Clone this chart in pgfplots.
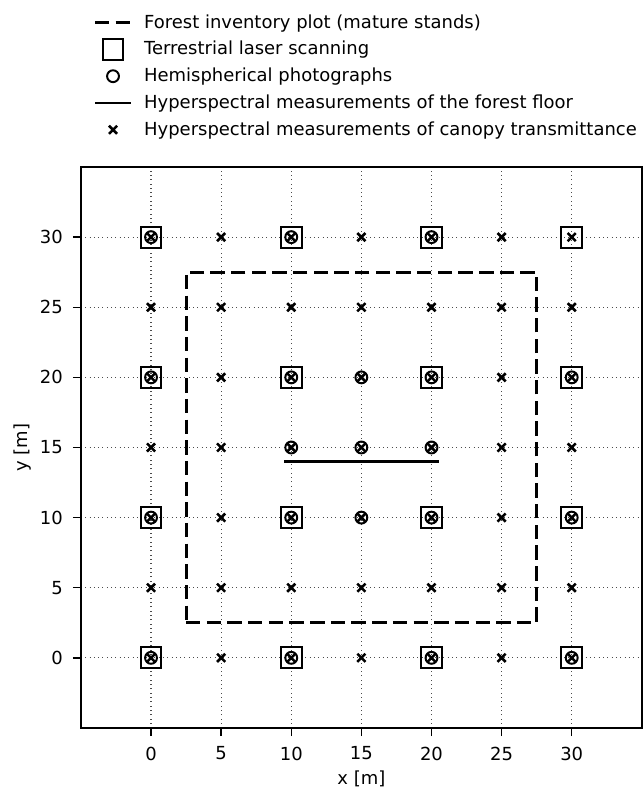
\documentclass[border=0pt]{standalone}
\usepackage{pgfplots}
\pgfplotsset{compat=1.18}
\usepackage{fontspec}
\setmainfont{DejaVu Sans}
\begin{document}
\begin{tikzpicture}
\begin{axis}[
  at={(0,0)}, anchor=south west,
  scale only axis, width=312pt, height=312pt,
  xmin=-5, xmax=35, ymin=-5, ymax=35,
  xtick={0,5,10,15,20,25,30}, ytick={0,5,10,15,20,25,30},
  tick pos=left, tick align=outside,
  major tick length=4.5pt,
  tick style={black, line width=0.8pt},
  axis line style={line width=0.9pt},
  grid=major,
  major grid style={dotted, black!70, line width=0.6pt},
  xlabel={x [m]}, ylabel={y [m]},
  /pgf/number format/assume math mode=true,
  ticklabel style={font=\fontsize{10}{12}\selectfont},
  xticklabel style={yshift=-2.5pt},
  yticklabel style={xshift=-2pt},
  every axis x label/.style={at={(rel axis cs:0.5,0)}, yshift=-28.4pt, anchor=center, font=\fontsize{10}{12}\selectfont},
  every axis y label/.style={at={(rel axis cs:0,0.5)}, xshift=-32.3pt, anchor=center, rotate=90, font=\fontsize{10}{12}\selectfont},
  legend image code/.code={\draw[mark repeat=2,mark phase=2] plot coordinates {(0pt,0pt) (10pt,0pt) (20pt,0pt)};},
  legend style={at={(0.022,1.279)}, anchor=north west, draw=none, fill=none,
    font=\fontsize{10}{12}\selectfont, row sep=1.8pt, column sep=4.5pt, inner sep=0pt},
  legend cell align=left,
  clip=false,
]
% forest inventory plot
\addplot[black, line width=1.6pt, dash pattern=on 8pt off 3.5pt] coordinates {
 (2.5,2.5) (27.5,2.5) (27.5,27.5) (2.5,27.5) (2.5,2.5)};
\addlegendentry{Forest inventory plot (mature stands)}
% TLS
\addplot[only marks, mark=square, mark size=5.8pt, mark options={draw=black, fill=none, line width=1.1pt}] coordinates {
 (0,0) (10,0) (20,0) (30,0)
 (0,10) (10,10) (20,10) (30,10)
 (0,20) (10,20) (20,20) (30,20)
 (0,30) (10,30) (20,30) (30,30)};
\addlegendentry{Terrestrial laser scanning}
% hemispherical
\addplot[only marks, mark=o, mark size=3.3pt, mark options={draw=black, fill=none, line width=1.1pt}] coordinates {
 (0,0) (10,0) (20,0) (30,0)
 (0,10) (10,10) (20,10) (30,10)
 (0,20) (10,20) (20,20) (30,20)
 (0,30) (10,30) (20,30)
 (15,10) (15,20) (10,15) (15,15) (20,15)};
\addlegendentry{Hemispherical photographs}
% forest floor
\addplot[black, line width=1.6pt] coordinates {(9.5,14) (20.5,14)};
\addlegendentry{Hyperspectral measurements of the forest floor}
% canopy transmittance
\addplot[only marks, mark=x, mark size=3.2pt, mark options={draw=black, line width=1.4pt}] coordinates {
 (0,0) (5,0) (10,0) (15,0) (20,0) (25,0) (30,0)
 (0,5) (5,5) (10,5) (15,5) (20,5) (25,5) (30,5)
 (0,10) (5,10) (10,10) (15,10) (20,10) (25,10) (30,10)
 (0,15) (5,15) (10,15) (15,15) (20,15) (25,15) (30,15)
 (0,20) (5,20) (10,20) (15,20) (20,20) (25,20) (30,20)
 (0,25) (5,25) (10,25) (15,25) (20,25) (25,25) (30,25)
 (0,30) (5,30) (10,30) (15,30) (20,30) (25,30) (30,30)};
\addlegendentry{Hyperspectral measurements of canopy transmittance}
\end{axis}
\pgfresetboundingbox
\path[use as bounding box] (-45pt,-33.4pt) rectangle (312.5pt,404.9pt);
\end{tikzpicture}
\end{document}
